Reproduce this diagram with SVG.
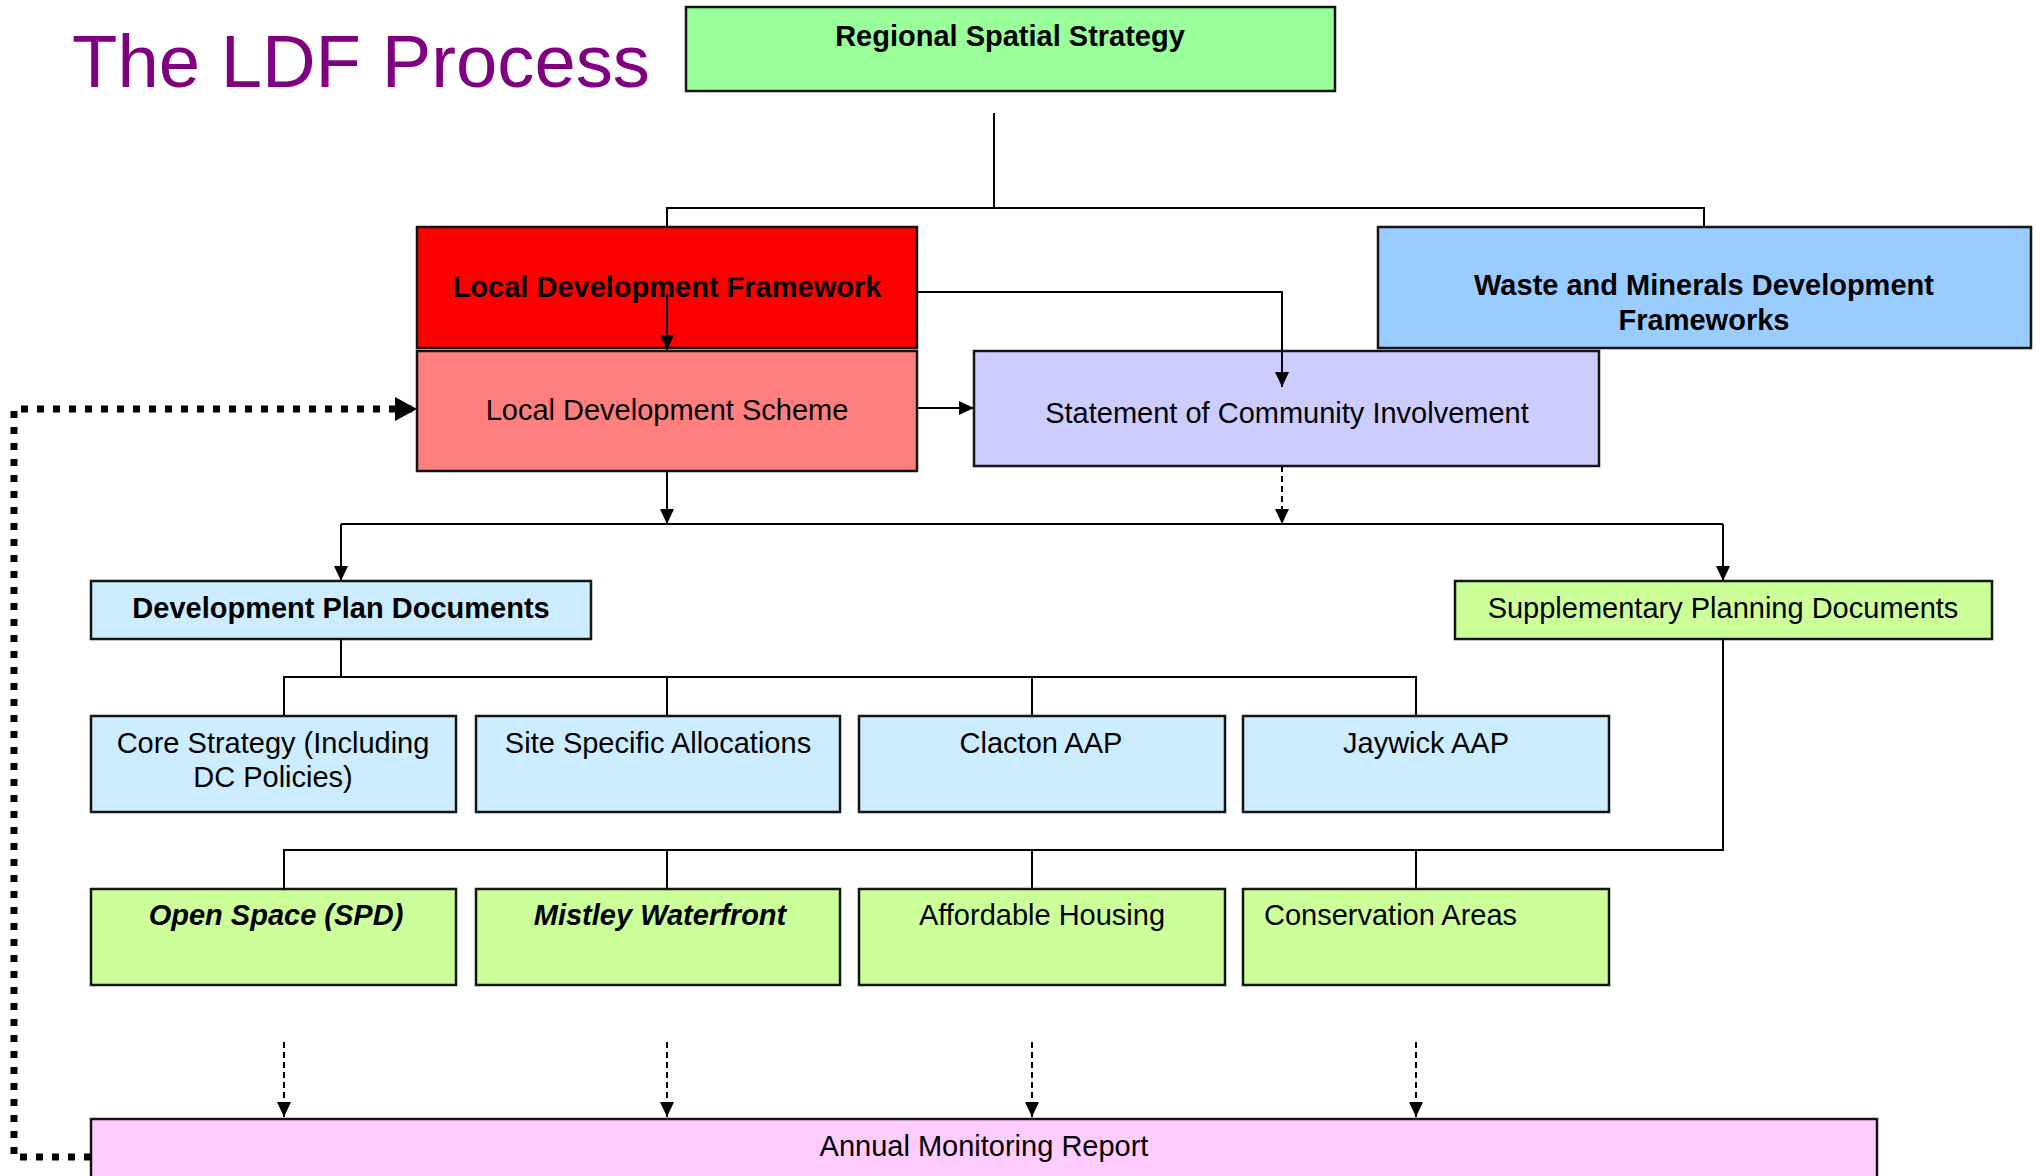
<svg xmlns="http://www.w3.org/2000/svg" width="2036" height="1176" viewBox="0 0 2036 1176">
  <style>
    text { font-family: "Liberation Sans", Arial, sans-serif; font-size: 29px; fill: #000; }
    .title { font-size: 75px; fill: #800080; }
    .b { font-weight: bold; }
    .bi { font-weight: bold; font-style: italic; }
    .c { text-anchor: middle; }
    .box { stroke: #141414; stroke-width: 2.5; }
    .ln { fill: none; stroke: #000; stroke-width: 2; }
    .dash { stroke-dasharray: 6 4; }
    .dots { fill: none; stroke: #000; stroke-width: 7; stroke-dasharray: 7 9; }
  </style>
  <defs>
    <marker id="arrow" viewBox="0 0 15 14" refX="15" refY="7" markerWidth="15" markerHeight="14" markerUnits="userSpaceOnUse" orient="auto">
      <path d="M0,0 L15,7 L0,14 Z" fill="#000"/>
    </marker>
    <marker id="arrowBig" viewBox="0 0 22 24" refX="22" refY="12" markerWidth="22" markerHeight="24" markerUnits="userSpaceOnUse" orient="auto">
      <path d="M0,0 L22,12 L0,24 Z" fill="#000"/>
    </marker>
  </defs>

  <rect width="2036" height="1176" fill="#fff"/>

  <text class="title" x="72" y="87" textLength="578" lengthAdjust="spacingAndGlyphs">The LDF Process</text>

  <g id="rss">
    <rect class="box" x="686" y="7" width="649" height="84" fill="#99FF99"/>
    <text class="b c" x="1010" y="46">Regional Spatial Strategy</text>
  </g>

  <g id="ldf">
    <rect class="box" x="417" y="227" width="500" height="121" fill="#FF0000"/>
    <text class="b c" x="667" y="297">Local Development Framework</text>
  </g>

  <g id="wmdf">
    <rect class="box" x="1378" y="227" width="653" height="121" fill="#99CCFF"/>
    <text class="b c" x="1704" y="295">Waste and Minerals Development</text>
    <text class="b c" x="1704" y="330">Frameworks</text>
  </g>

  <g id="lds">
    <rect class="box" x="417" y="351" width="500" height="120" fill="#FF7F7F"/>
    <text class="c" x="667" y="420">Local Development Scheme</text>
  </g>

  <g id="sci">
    <rect class="box" x="974" y="351" width="625" height="115" fill="#CCCCFF"/>
    <text class="c" x="1287" y="423">Statement of Community Involvement</text>
  </g>

  <g id="dpd">
    <rect class="box" x="91" y="581" width="500" height="58" fill="#CCECFF"/>
    <text class="b c" x="341" y="618">Development Plan Documents</text>
  </g>

  <g id="spd">
    <rect class="box" x="1455" y="581" width="537" height="58" fill="#CCFF99"/>
    <text class="c" x="1723" y="618">Supplementary Planning Documents</text>
  </g>

  <g id="core-strategy">
    <rect class="box" x="91" y="716" width="365" height="96" fill="#CCECFF"/>
    <text class="c" x="273" y="753">Core Strategy (Including</text>
    <text class="c" x="273" y="787">DC Policies)</text>
  </g>

  <g id="site-specific">
    <rect class="box" x="476" y="716" width="364" height="96" fill="#CCECFF"/>
    <text class="c" x="658" y="753">Site Specific Allocations</text>
  </g>

  <g id="clacton">
    <rect class="box" x="859" y="716" width="366" height="96" fill="#CCECFF"/>
    <text class="c" x="1041" y="753">Clacton AAP</text>
  </g>

  <g id="jaywick">
    <rect class="box" x="1243" y="716" width="366" height="96" fill="#CCECFF"/>
    <text class="c" x="1426" y="753">Jaywick AAP</text>
  </g>

  <g id="open-space">
    <rect class="box" x="91" y="889" width="365" height="96" fill="#CCFF99"/>
    <text class="bi c" x="276" y="925">Open Space (SPD)</text>
  </g>

  <g id="mistley">
    <rect class="box" x="476" y="889" width="364" height="96" fill="#CCFF99"/>
    <text class="bi c" x="660" y="925">Mistley Waterfront</text>
  </g>

  <g id="affordable-housing">
    <rect class="box" x="859" y="889" width="366" height="96" fill="#CCFF99"/>
    <text class="c" x="1042" y="925">Affordable Housing</text>
  </g>

  <g id="conservation">
    <rect class="box" x="1243" y="889" width="366" height="96" fill="#CCFF99"/>
    <text x="1264" y="925">Conservation Areas</text>
  </g>

  <g id="amr">
    <rect class="box" x="91" y="1119" width="1786" height="80" fill="#FFCCFF"/>
    <text class="c" x="984" y="1156">Annual Monitoring Report</text>
  </g>

  <!-- connectors, drawn last so the LDF arrows run over the boxes -->
  <g id="connectors">
    <path class="ln" d="M994,113 V208"/>
    <path class="ln" d="M667,227 V208 H1704 V227"/>
    <path class="ln" d="M667,294 V350" marker-end="url(#arrow)"/>
    <path class="ln" d="M917,292 H1282 V387" marker-end="url(#arrow)"/>
    <path class="ln" d="M917,408 H974" marker-end="url(#arrow)"/>
    <path class="ln" d="M667,471 V524" marker-end="url(#arrow)"/>
    <path class="ln dash" d="M1282,466 V524" marker-end="url(#arrow)"/>
    <path class="ln" d="M341,524 H1723"/>
    <path class="ln" d="M341,524 V581" marker-end="url(#arrow)"/>
    <path class="ln" d="M1723,524 V581" marker-end="url(#arrow)"/>
    <path class="ln" d="M341,639 V677"/>
    <path class="ln" d="M284,716 V677 H1416 V716"/>
    <path class="ln" d="M667,677 V716"/>
    <path class="ln" d="M1032,677 V716"/>
    <path class="ln" d="M1723,639 V850 H284 V889"/>
    <path class="ln" d="M667,850 V889"/>
    <path class="ln" d="M1032,850 V889"/>
    <path class="ln" d="M1416,850 V889"/>
    <path class="ln dash" d="M284,1042 V1117" marker-end="url(#arrow)"/>
    <path class="ln dash" d="M667,1042 V1117" marker-end="url(#arrow)"/>
    <path class="ln dash" d="M1032,1042 V1117" marker-end="url(#arrow)"/>
    <path class="ln dash" d="M1416,1042 V1117" marker-end="url(#arrow)"/>
    <path class="dots" d="M91,1157 H14 V409 H417" marker-end="url(#arrowBig)"/>
  </g>
</svg>
